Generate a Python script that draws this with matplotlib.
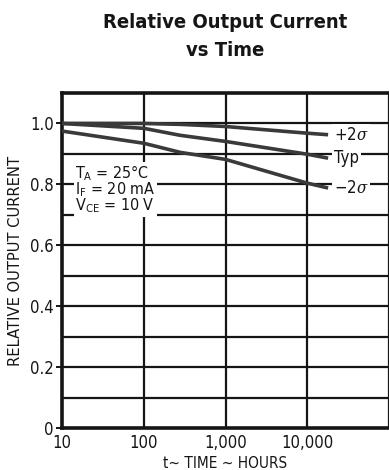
import matplotlib
matplotlib.use("Agg")
import matplotlib.pyplot as plt
from matplotlib import font_manager as fm
import numpy as np

# Data
hours = [10, 100, 280, 1000, 10000, 18000]
plus_2sigma = [1.0, 1.0, 0.997, 0.99, 0.968, 0.963]
typical = [1.0, 0.984, 0.961, 0.941, 0.899, 0.886]
minus_2sigma = [0.975, 0.935, 0.905, 0.882, 0.804, 0.788]
curve_labels = [r"+2$\sigma$", "Typ", r"$-$2$\sigma$"]
x_ticks = [10, 100, 1000, 10000]
x_tick_labels = ["10", "100", "1,000", "10,000"]
y_ticks = [0.0, 0.2, 0.4, 0.6, 0.8, 1.0]
y_tick_labels = ["0", "0.2", "0.4", "0.6", "0.8", "1.0"]
y_grid = [0.1, 0.2, 0.3, 0.4, 0.5, 0.6, 0.7, 0.8, 0.9, 1.0]
conditions = [r"T$_\mathregular{A}$ = 25°C", r"I$_\mathregular{F}$ = 20 mA",
              r"V$_\mathregular{CE}$ = 10 V"]

# pick a condensed face if one is available
stretch = "normal"
try:
    p = fm.findfont(fm.FontProperties(family="DejaVu Sans", stretch="condensed"),
                    fallback_to_default=False)
    if "ondensed" in p:
        stretch = "condensed"
except Exception:
    pass
if stretch == "condensed":
    FAM = ["DejaVu Sans"]
else:
    FAM = ["Liberation Sans", "DejaVu Sans"]
plt.rcParams["font.family"] = FAM
plt.rcParams["font.stretch"] = stretch
plt.rcParams["mathtext.fontset"] = "custom"
plt.rcParams["mathtext.rm"] = FAM[0] + (":stretch=condensed" if stretch == "condensed" else "")
plt.rcParams["mathtext.it"] = "DejaVu Serif:italic"

ink = "#151515"
curve_col = "#3a3a3a"

fig = plt.figure(figsize=(3.89, 4.70), dpi=100)
ax = fig.add_axes([62/389, 1-428/470, 327/389, (428-93)/470])
ax.set_xscale("log")
ax.set_xlim(10, 100000)
ax.set_ylim(0, 1.1)

for v in y_grid:
    ax.axhline(v, color=ink, lw=1.6, zorder=1)
for v in x_ticks[1:]:
    ax.axvline(v, color=ink, lw=1.6, zorder=1)

for ys in (plus_2sigma, typical, minus_2sigma):
    ax.plot(hours, ys, color=curve_col, lw=2.6, solid_capstyle="butt", zorder=4)

for ys, lab in zip((plus_2sigma, typical, minus_2sigma), curve_labels):
    ax.text(21000, ys[-1], lab, fontsize=12, color=ink, va="center", ha="left",
            zorder=3, bbox=dict(facecolor="white", edgecolor="none", pad=1.5))

ax.text(0.04, 0.79, "\n".join(conditions), transform=ax.transAxes,
        fontsize=11.5, color=ink, va="top", ha="left", linespacing=0.82, zorder=3,
        bbox=dict(facecolor="white", edgecolor="none", pad=1.0))

for s in ("top", "left", "bottom"):
    ax.spines[s].set_linewidth(2.6)
    ax.spines[s].set_color(ink)
ax.spines["right"].set_linewidth(1.6)
ax.spines["right"].set_color(ink)

ax.set_xticks(x_ticks)
ax.set_xticklabels(x_tick_labels, fontsize=12)
ax.xaxis.set_minor_locator(matplotlib.ticker.NullLocator())
ax.tick_params(axis="x", length=0, pad=4, colors=ink)
ax.set_yticks(y_ticks)
ax.set_yticklabels(y_tick_labels, fontsize=12)
ax.tick_params(axis="y", length=4, width=1.4, pad=2, colors=ink)

ax.set_xlabel("t~ TIME ~ HOURS", fontsize=11, color=ink, labelpad=3)
ax.set_ylabel("RELATIVE OUTPUT CURRENT", fontsize=11.8, color=ink, labelpad=5)

fig.text(225/389, 1-22/470, "Relative Output Current", fontsize=14.5,
         fontweight="bold", ha="center", va="center", color=ink)
fig.text(225/389, 1-50/470, "vs Time", fontsize=14.5,
         fontweight="bold", ha="center", va="center", color=ink)

fig.savefig("out.png", dpi=100, facecolor="white")
